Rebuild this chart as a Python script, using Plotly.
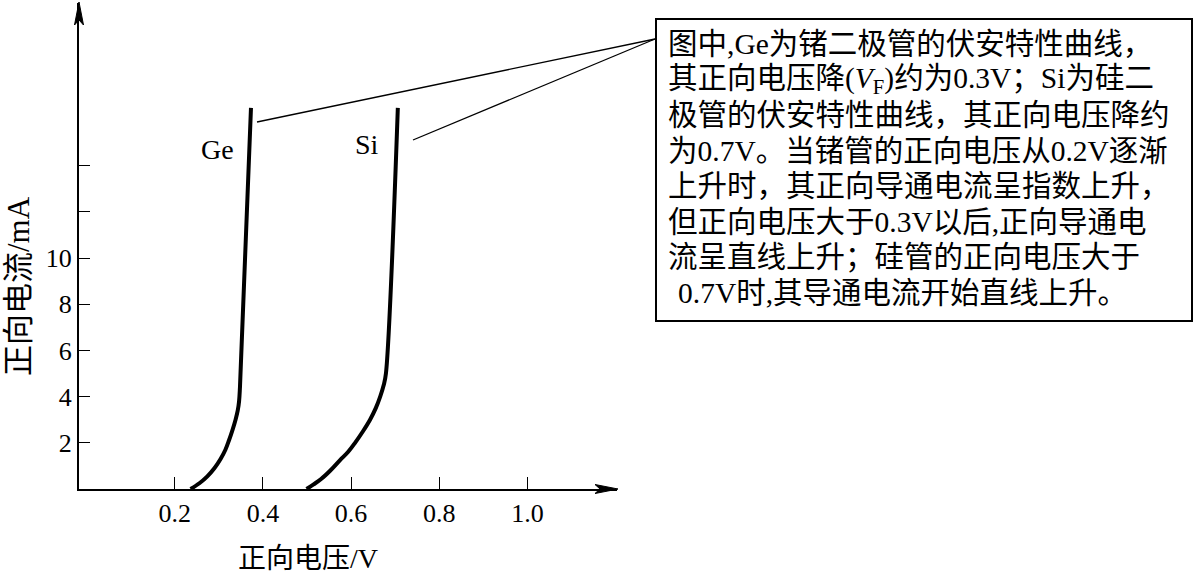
import plotly.graph_objects as go

# ---- data ----
ge_voltage = [0.236, 0.256, 0.274, 0.290, 0.304, 0.315, 0.323, 0.331, 0.338, 0.343, 0.346, 0.348, 0.373]
ge_current = [0.0, 0.25, 0.55, 0.90, 1.30, 1.70, 2.10, 2.55, 3.00, 3.40, 3.80, 4.40, 16.5]
si_voltage = [0.499, 0.515, 0.532, 0.553, 0.575, 0.593, 0.609, 0.627, 0.643, 0.656, 0.666, 0.674, 0.679, 0.706]
si_current = [0.0, 0.20, 0.43, 0.80, 1.25, 1.60, 2.00, 2.50, 3.00, 3.50, 4.00, 4.50, 5.00, 16.5]

x_tick_vals = [0.2, 0.4, 0.6, 0.8, 1.0]
x_tick_text = ["0.2", "0.4", "0.6", "0.8", "1.0"]
y_tick_vals = [2, 4, 6, 8, 10]
y_tick_text = ["2", "4", "6", "8", "10"]
y_unlabelled_ticks = [12, 14]

x_title = "正向电压/V"
y_title = "正向电流/mA"
curve_labels = ["Ge", "Si"]
note_lines = [
    "图中,Ge为锗二极管的伏安特性曲线，",
    "其正向电压降(<i>V</i><sub>F</sub>)约为0.3V；Si为硅二",
    "极管的伏安特性曲线，其正向电压降约",
    "为0.7V。当锗管的正向电压从0.2V逐渐",
    "上升时，其正向导通电流呈指数上升，",
    "但正向电压大于0.3V以后,正向导通电",
    "流呈直线上升；硅管的正向电压大于",
    "0.7V时,其导通电流开始直线上升。",
]

# ---- geometry ----
W, H = 1194, 574
L, R, T, B = 79, 577, 3, 85
PW, PH = W - L - R, H - T - B


def px(p):
    return (p - L) / PW


def py(p):
    return (H - B - p) / PH


FONT = "'Liberation Serif', 'Noto Sans CJK SC', serif"

fig = go.Figure()
for xs, ys in [(ge_voltage, ge_current), (si_voltage, si_current)]:
    fig.add_trace(go.Scatter(x=xs, y=ys, mode="lines",
                             line=dict(color="black", width=4, shape="spline", smoothing=1.0),
                             cliponaxis=False, showlegend=False, hoverinfo="skip"))

fig.update_layout(
    width=W, height=H,
    margin=dict(l=L, r=R, t=T, b=B),
    paper_bgcolor="white", plot_bgcolor="white",
    font=dict(family=FONT, color="black", size=26),
    xaxis=dict(range=[-0.017, 1.203], showgrid=False, zeroline=False,
               showline=True, linecolor="black", linewidth=2,
               ticks="inside", ticklen=12, tickwidth=1.3, tickcolor="black",
               tickvals=x_tick_vals, ticktext=x_tick_text,
               tickfont=dict(family=FONT, size=26)),
    yaxis=dict(range=[0, 21.04], showgrid=False, zeroline=False,
               showline=True, linecolor="black", linewidth=2,
               ticks="inside", ticklen=11, tickwidth=1.3, tickcolor="black",
               tickvals=y_tick_vals, ticktext=y_tick_text,
               tickfont=dict(family=FONT, size=26),
               minor=dict(tickmode="array", tickvals=y_unlabelled_ticks, ticks="inside",
                          ticklen=11, tickwidth=1.3, tickcolor="black", showgrid=False)),
)

ann = []
# axis titles
ann.append(dict(xref="paper", yref="paper", x=px(308), y=py(558), text=x_title, showarrow=False,
                font=dict(family=FONT, size=28), xanchor="center", yanchor="middle"))
ann.append(dict(xref="paper", yref="paper", x=px(18), y=py(286), text=y_title, showarrow=False,
                textangle=-90, font=dict(family=FONT, size=31), xanchor="center", yanchor="middle"))
# curve labels
ann.append(dict(x=0.298, y=14.7, text=curve_labels[0], showarrow=False, font=dict(family=FONT, size=28)))
ann.append(dict(x=0.636, y=14.9, text=curve_labels[1], showarrow=False, font=dict(family=FONT, size=28)))
# note text
for i, line in enumerate(note_lines):
    ann.append(dict(xref="paper", yref="paper", x=px(666 if i < 7 else 676), y=py(44 + i * 35.5),
                    text=line, showarrow=False, xanchor="left", yanchor="middle",
                    font=dict(family=FONT, size=29.5)))
fig.update_layout(annotations=ann)


def path(points):
    return "M " + " L ".join(f"{px(a)},{py(b)}" for a, b in points) + " Z"


shapes = [
    dict(type="rect", xref="paper", yref="paper", x0=px(656), x1=px(1192), y0=py(321), y1=py(19),
         line=dict(color="black", width=2)),
    dict(type="line", xref="paper", yref="paper", x0=px(257), y0=py(122), x1=px(655), y1=py(39),
         line=dict(color="black", width=1.3)),
    dict(type="line", xref="paper", yref="paper", x0=px(413), y0=py(140), x1=px(655), y1=py(39),
         line=dict(color="black", width=1.3)),
    # axis arrowheads
    dict(type="path", xref="paper", yref="paper",
         path=path([(79, 2), (83.5, 25), (79, 20), (74.5, 25)]),
         fillcolor="black", line=dict(color="black", width=1)),
    dict(type="path", xref="paper", yref="paper",
         path=path([(618, 489), (595, 484.5), (600, 489), (595, 493.5)]),
         fillcolor="black", line=dict(color="black", width=1)),
]
fig.update_layout(shapes=shapes)

fig.write_html("out.html", config={"displayModeBar": False},
               post_script="document.body.style.margin='0';document.body.style.overflow='hidden';")
